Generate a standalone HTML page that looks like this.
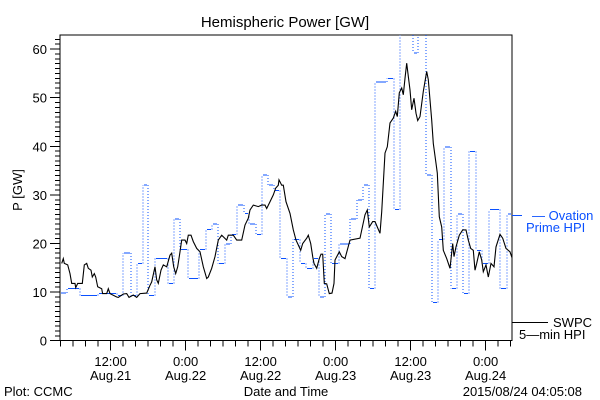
<!DOCTYPE html>
<html><head><meta charset="utf-8"><style>
html,body{margin:0;padding:0;background:#fff;}
svg{display:block;font-family:"Liberation Sans",sans-serif;}
</style></head><body>
<svg id="chart" width="600" height="400" viewBox="0 0 600 400" xmlns="http://www.w3.org/2000/svg">
<rect x="0" y="0" width="600" height="400" fill="#fff"/>
<text x="285" y="27" font-size="15" text-anchor="middle" fill="#000">Hemispheric Power [GW]</text>
<text x="0" y="0" font-size="13" text-anchor="middle" fill="#000" transform="translate(22,190) rotate(-90)">P [GW]</text>
<g id="axes" shape-rendering="crispEdges"></g>
<g id="marks"></g>
<text x="4" y="396" font-size="13" fill="#000">Plot: CCMC</text>
<text x="286" y="396" font-size="13" text-anchor="middle" fill="#000">Date and Time</text>
<text x="582" y="396" font-size="13" text-anchor="end" fill="#000">2015/08/24 04:05:08</text>
<g>
<line x1="512" y1="215.5" x2="522" y2="215.5" stroke="#0a50ff" stroke-width="1" shape-rendering="crispEdges"/>
<text x="532" y="220" font-size="13" fill="#0a50ff">— Ovation</text>
<text x="526" y="232" font-size="13" fill="#0a50ff">Prime HPI</text>
</g>
<g>
<line x1="512" y1="322.5" x2="548" y2="322.5" stroke="#000" stroke-width="1" shape-rendering="crispEdges"/>
<text x="553" y="327" font-size="13" fill="#000">SWPC</text>
<text x="519" y="339" font-size="13" fill="#000">5—min HPI</text>
</g>
</svg>
<script>
// hours since plot start (Aug 21 ~03:54)
const blueStart = [0,1.12,3.2,6.08,9.12,10.08,11.36,12.32,13.28,14.08,15.2,17.28,18.24,19.2,20.48,22.24,23.36,24.32,25.28,26.4,27.36,28.32,29.44,30.24,31.36,32.32,33.28,34.24,35.2,36.32,37.28,38.4,39.36,40.48,41.44,42.4,43.36,44.64,46.4,47.52,48.48,49.44,50.4,52.32,53.44,54.4,56.48,57.28,58.56,59.52,60.48,61.44,62.56,63.52,64.48,65.44,66.56,67.52,68.64,70.4,71.52];
const blueEnd = 72.32;
const blueValues = [9.8,10.7,9.3,9.7,9.3,18.0,9.3,15.9,32.0,9.3,16.9,11.8,25.0,18.8,12.8,18.8,22.9,24.0,15.9,19.9,21.9,27.9,26.2,24.0,21.9,34.1,32.0,30.9,16.9,9.0,20.8,15.9,14.9,16.9,9.0,26.1,15.9,19.9,25.0,29.0,32.0,10.7,53.2,54.0,27.0,66,59.2,66,34.1,7.9,20.8,39.9,10.7,26.1,9.7,38.9,18.6,15.9,27.0,10.7,26.1];
const blackTimes = [0.27,0.53,0.69,1.23,1.6,1.87,2.4,2.51,2.83,3.57,3.89,4.27,4.53,4.96,5.17,5.49,5.71,6.03,6.67,6.82,7.47,7.73,8.0,9.07,9.33,10.13,10.67,11.04,11.73,12.27,12.8,13.87,14.4,14.67,15.2,15.47,15.73,16.16,16.53,17.07,17.6,17.87,18.19,18.51,18.83,19.2,19.47,20.0,20.27,20.53,20.96,21.33,21.87,22.4,22.93,23.47,23.73,24.27,24.8,25.33,25.87,26.67,26.93,27.73,28.27,29.07,29.6,30.13,30.4,30.93,31.73,32.27,32.8,33.07,33.6,34.13,34.51,34.93,35.04,35.47,35.73,36.16,36.8,37.33,37.76,38.13,38.51,38.83,39.47,39.73,40.11,40.43,40.64,41.07,41.49,41.76,42.03,42.29,42.67,43.09,43.52,43.84,44.0,44.69,45.07,45.6,46.4,48.0,48.8,49.17,49.49,50.03,50.4,50.77,51.2,51.47,52.0,52.37,52.8,53.33,53.71,53.97,54.29,54.67,54.93,55.2,55.47,55.73,56.0,56.27,56.64,56.96,57.23,57.6,58.13,58.67,58.93,59.47,59.73,60.16,60.37,60.69,61.07,61.33,61.87,62.4,62.83,63.04,63.36,63.89,64.43,64.96,65.33,65.71,66.13,66.4,66.67,67.09,67.47,67.73,68.16,68.53,68.96,69.44,69.76,70.4,70.83,71.36,72.0,72.37];
const blackValues = [15.9,16.9,15.9,15.6,13.8,11.8,11.8,10.9,11.8,11.8,15.6,15.9,14.9,14.5,13.1,13.8,13.1,11.1,10.7,9.7,9.7,10.7,9.7,9.0,8.9,9.6,9.7,8.9,9.4,8.9,9.7,9.8,11.4,12.1,15.2,12.5,11.8,14.5,15.6,15.2,17.6,18.0,15.2,13.8,15.2,18.3,20.7,20.7,20.0,21.7,21.7,20.4,19.0,18.3,15.2,12.8,13.1,14.9,17.3,20.7,21.7,20.7,21.7,21.7,20.7,20.7,23.8,25.2,26.9,27.9,27.6,27.9,27.9,27.2,28.6,30.0,31.4,32.0,33.1,32.0,32.0,28.6,26.2,22.8,20.7,19.7,18.6,20.0,21.1,21.7,20.0,17.3,15.9,14.9,16.9,17.8,17.8,11.8,11.7,9.7,9.8,11.8,16.6,18.3,17.3,16.9,20.7,21.1,25.9,26.9,23.4,24.5,24.5,23.4,22.1,26.5,38.6,39.9,44.8,45.8,47.2,46.1,51.0,52.0,50.6,54.0,57.1,54.4,51.6,47.5,49.9,46.8,45.3,46.1,51.3,55.4,53.7,45.4,40.6,36.5,34.5,25.5,23.4,18.6,16.9,14.9,20.0,17.3,19.3,21.7,22.8,22.8,20.7,19.0,18.6,14.5,15.9,18.3,16.6,14.2,15.6,13.1,15.9,15.2,19.3,21.9,21.1,19.0,18.3,16.9];
const yTickValues = [0,10,20,30,40,50,60];
const yTickLabels = ["0","10","20","30","40","50","60"];
const xTickHours = [8.1,20.1,32.1,44.1,56.1,68.1];
const xTickLabels1 = ["12:00","0:00","12:00","0:00","12:00","0:00"];
const xTickLabels2 = ["Aug.21","Aug.22","Aug.22","Aug.23","Aug.23","Aug.24"];

const L=60,R=512,T=35,B=340.7;
const HOURS_TOTAL=72.32, YMAX=62.9;
function xs(h){return L+h*(R-L)/HOURS_TOTAL;}
function ys(v){return B-v*(B-T)/YMAX;}
const NS='http://www.w3.org/2000/svg';
function mk(tag,attrs,parent){const e=document.createElementNS(NS,tag);for(const k in attrs)e.setAttribute(k,attrs[k]);parent.appendChild(e);return e;}
const axes=document.getElementById('axes'), marks=document.getElementById('marks');

const defs=mk('defs',{},document.getElementById('chart'));
const cp=mk('clipPath',{id:'plotclip'},defs);
mk('rect',{x:L,y:T,width:R-L,height:B-T},cp);

const frame=mk('rect',{x:L,y:T,width:R-L,height:B-T,fill:'none',stroke:'#000','stroke-width':1},axes);



for(let v=0;v<=62;v++){
  const t=mk('line',{x1:(v%10===0)?50:55,x2:L,y1:ys(v),y2:ys(v),stroke:'#000','stroke-width':1},axes);
  
  
}
yTickValues.forEach((v,i)=>{
  const t=mk('text',{x:47,y:ys(v)+5,'font-size':13,'text-anchor':'end',fill:'#000'},axes);
  t.textContent=yTickLabels[i];
  
  
});
for(let h=xTickHours[0]-8;h<=HOURS_TOTAL;h+=2){
  if(h<0)continue;
  const t=mk('line',{x1:xs(h),x2:xs(h),y1:B,y2:B+6,stroke:'#000','stroke-width':1},axes);
  
  
}
xTickHours.forEach((h,i)=>{
  const t=mk('line',{x1:xs(h),x2:xs(h),y1:B,y2:B+10,stroke:'#000','stroke-width':1},axes);
  
  
  const a=mk('text',{x:xs(h),y:366,'font-size':13,'text-anchor':'middle',fill:'#000'},axes);
  a.textContent=xTickLabels1[i];
  
  
  const b=mk('text',{x:xs(h),y:380,'font-size':13,'text-anchor':'middle',fill:'#000'},axes);
  b.textContent=xTickLabels2[i];
  
  
});

const bg=mk('g',{'clip-path':'url(#plotclip)','shape-rendering':'crispEdges'},marks);


for(let i=0;i<blueStart.length;i++){
  const x1=xs(blueStart[i]), x2=xs(i+1<blueStart.length?blueStart[i+1]:blueEnd);
  const s=mk('line',{x1:x1+1,x2:x2-1,y1:ys(blueValues[i]),y2:ys(blueValues[i]),stroke:'#0a50ff','stroke-width':1},bg);
  
  
  if(i+1<blueStart.length){
    const d=mk('line',{x1:x2,x2:x2,y1:ys(blueValues[i]),y2:ys(blueValues[i+1]),stroke:'#0a50ff','stroke-width':1,'stroke-dasharray':'1,2'},bg);
    
    
  }
}
const pts=blackTimes.map((h,i)=>xs(h).toFixed(1)+','+ys(blackValues[i]).toFixed(1)).join(' ');
const pl=mk('polyline',{points:pts,fill:'none',stroke:'#000','stroke-width':1.1,'clip-path':'url(#plotclip)'},marks);


</script>
</body></html>
